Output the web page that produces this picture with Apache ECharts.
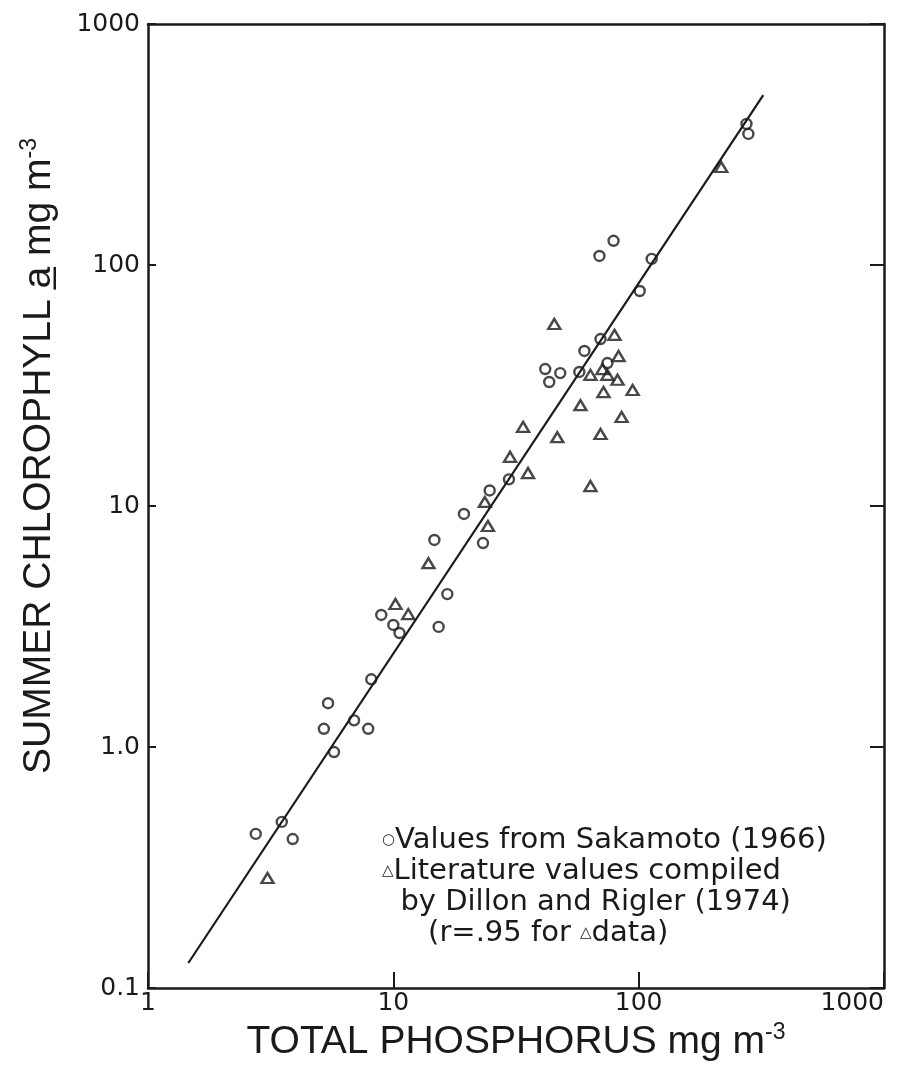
<!DOCTYPE html>
<html>
<head>
<meta charset="utf-8">
<title>Summer chlorophyll vs total phosphorus</title>
<script src="https://cdn.jsdelivr.net/npm/echarts@6/dist/echarts.min.js"></script>
<style>
  html, body { margin: 0; padding: 0; background: #fff; }
  #main { width: 912px; height: 1084px; }
</style>
</head>
<body>
<div id="main"></div>
<script type="text/javascript">
// circles: values from Sakamoto (1966)
var sakamotoP   = [2.75, 3.51, 3.89, 5.21, 5.42, 5.73, 6.92, 7.90, 8.13, 8.93, 10.0, 10.6,
                   14.7, 15.3, 16.6, 19.4, 23.2, 24.7, 29.6, 41.6, 43.2, 47.9, 57.3, 60.1,
                   69.9, 74.6, 69.2, 79.0, 101, 113, 275, 280];
var sakamotoChl = [0.436, 0.489, 0.415, 1.19, 1.52, 0.953, 1.29, 1.19, 1.91, 3.53, 3.21, 2.97,
                   7.23, 3.15, 4.31, 9.27, 7.02, 11.6, 12.9, 37.0, 32.7, 35.6, 36.0, 44.0,
                   49.3, 39.2, 109, 126, 78.0, 106, 385, 350];

// triangles: literature values compiled by Dillon and Rigler (1974)
var dillonP   = [3.07, 10.2, 11.5, 13.9, 23.6, 24.3, 29.9, 33.8, 35.4, 45.3, 46.6, 57.9,
                 63.6, 63.6, 71.2, 71.9, 69.9, 74.6, 79.7, 82.0, 82.8, 85.2, 94.5, 217];
var dillonChl = [0.286, 3.92, 3.56, 5.79, 10.4, 8.26, 16.0, 21.3, 13.7, 56.9, 19.3, 26.2,
                 35.0, 12.1, 37.0, 29.7, 19.9, 35.0, 51.3, 33.4, 41.9, 23.4, 30.3, 255];

// regression line end points
var fitP   = [1.46, 322];
var fitChl = [0.127, 507];

var xTickValues = [1, 10, 100, 1000];
var xTickLabels = ['1', '10', '100', '1000'];
var yTickValues = [0.1, 1, 10, 100, 1000];
var yTickLabels = ['0.1', '1.0', '10', '100', '1000'];

var legendLines = [
  'Values from Sakamoto (1966)',
  'Literature values compiled',
  'by Dillon and Rigler (1974)',
  '(r=.95 for ',
  'data)'
];

function pairs(xs, ys) {
  var out = [];
  for (var i = 0; i < xs.length; i++) out.push([xs[i], ys[i]]);
  return out;
}
function tickLabel(values, labels) {
  return function (v) {
    var k = Math.round(Math.log(v) / Math.LN10);
    for (var i = 0; i < values.length; i++) {
      if (Math.round(Math.log(values[i]) / Math.LN10) === k) return labels[i];
    }
    return '';
  };
}

var ink = '#1a1a1a';
var tickFont = { color: ink, fontFamily: 'DejaVu Sans', fontSize: 25 };
var titleFont = 'Liberation Sans';

var myChart = echarts.init(document.getElementById('main'));

var option = {
  backgroundColor: '#fff',
  animation: false,
  grid: { left: 148, right: 28, top: 24, bottom: 96 },
  xAxis: [
    {
      type: 'log', logBase: 10, min: 1, max: 1000, position: 'bottom',
      axisLine: { lineStyle: { color: ink, width: 2.5 } },
      axisTick: { inside: true, length: 16, lineStyle: { color: ink, width: 2 } },
      splitLine: { show: false },
      axisLabel: Object.assign({ margin: 3, alignMaxLabel: 'right',
                                 formatter: tickLabel(xTickValues, xTickLabels) }, tickFont)
    },
    {
      type: 'log', logBase: 10, min: 1, max: 1000, position: 'top',
      axisLine: { lineStyle: { color: ink, width: 2.5 } },
      axisTick: { show: false }, axisLabel: { show: false }, splitLine: { show: false }
    }
  ],
  yAxis: [
    {
      type: 'log', logBase: 10, min: 0.1, max: 1000, position: 'left',
      axisLine: { lineStyle: { color: ink, width: 2.5 } },
      axisTick: { inside: true, length: 8, lineStyle: { color: ink, width: 2 } },
      splitLine: { show: false },
      axisLabel: Object.assign({ margin: 8, formatter: tickLabel(yTickValues, yTickLabels) }, tickFont)
    },
    {
      type: 'log', logBase: 10, min: 0.1, max: 1000, position: 'right',
      axisLine: { lineStyle: { color: ink, width: 2.5 } },
      axisTick: { inside: true, length: 14, lineStyle: { color: ink, width: 2 } },
      axisLabel: { show: false }, splitLine: { show: false }
    }
  ],
  series: [
    {
      name: 'fit', type: 'line', data: pairs(fitP, fitChl),
      showSymbol: false, symbol: 'none',
      lineStyle: { color: ink, width: 2.2 }, z: 2
    },
    {
      name: 'Sakamoto (1966)', type: 'scatter', data: pairs(sakamotoP, sakamotoChl),
      symbol: 'circle', symbolSize: 10,
      itemStyle: { color: 'rgba(255,255,255,0)', borderColor: ink, borderWidth: 2.4 }, z: 3
    },
    {
      name: 'Dillon and Rigler (1974)', type: 'scatter', data: pairs(dillonP, dillonChl),
      symbol: 'triangle', symbolSize: [12, 10],
      itemStyle: { color: 'rgba(255,255,255,0)', borderColor: ink, borderWidth: 2.4 }, z: 3
    }
  ],
  graphic: [
    {
      type: 'text', left: 18, top: 138, rotation: Math.PI / 2, originX: 0, originY: 0,
      style: {
        text: 'SUMMER CHLOROPHYLL {u|a\u0332} mg m{sup|-3}',
        fill: ink, font: '39px "' + titleFont + '"', lineHeight: 43,
        rich: {
          u: { fontFamily: titleFont, fontSize: 39, fill: ink, lineHeight: 43 },
          sup: { fontFamily: titleFont, fontSize: 23, fill: ink, verticalAlign: 'top', lineHeight: 23 }
        }
      }
    },
    {
      type: 'text', x: 516, y: 1021,
      style: {
        text: 'TOTAL PHOSPHORUS mg m{sup|-3}', align: 'center',
        fill: ink, font: '39px "' + titleFont + '"', lineHeight: 43,
        rich: {
          sup: { fontFamily: titleFont, fontSize: 23, fill: ink, verticalAlign: 'top', lineHeight: 23 }
        }
      }
    },
    {
      type: 'text', x: 382, y: 825,
      style: {
        text: '{s|\u25CB}' + legendLines[0] + '\n{s|\u25B3}' + legendLines[1] +
              '\n  ' + legendLines[2] + '\n     ' + legendLines[3] + '{s|\u25B3}' + legendLines[4],
        fill: ink, font: '29px "DejaVu Sans"', lineHeight: 31,
        rich: { s: { fontFamily: 'DejaVu Sans', fontSize: 15, fill: ink, lineHeight: 31 } }
      }
    }
  ]
};

myChart.setOption(option);
</script>
</body>
</html>
